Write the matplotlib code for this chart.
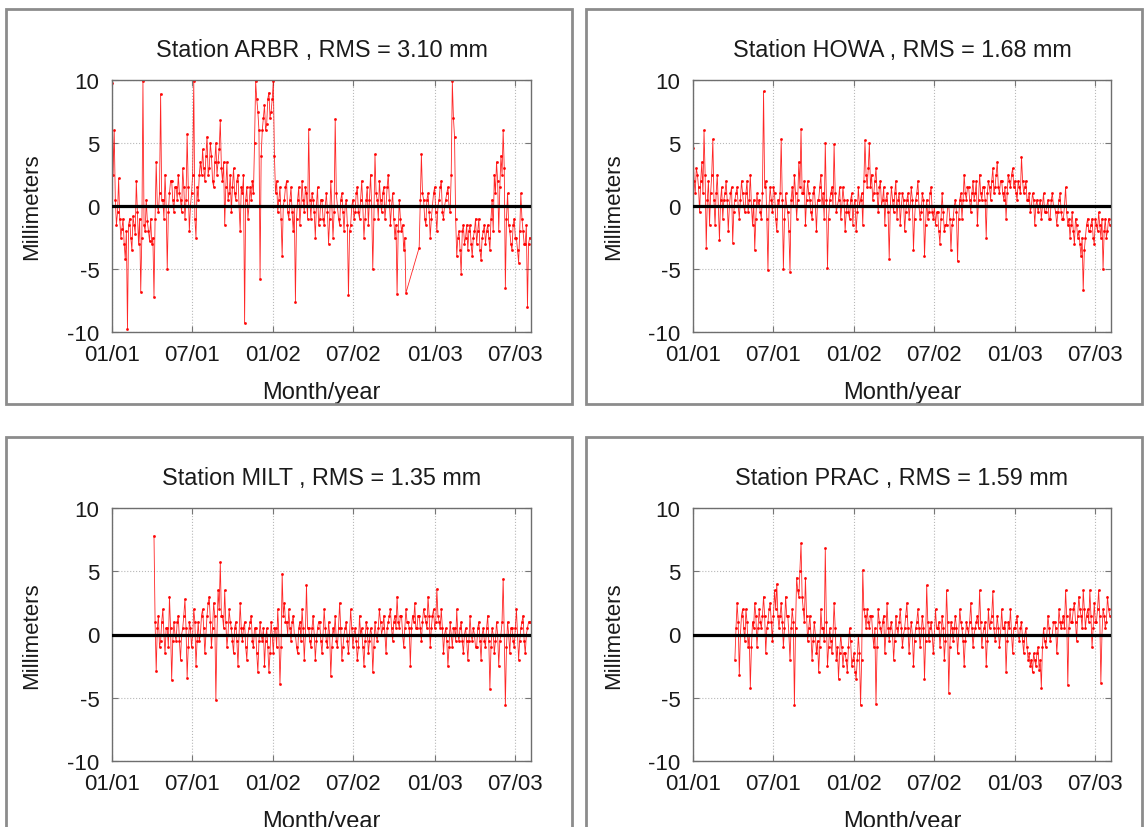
"""Daily GPS height residuals for four stations, 2001-2003.

Four framed panels, one per station, each showing the residual series in
millimetres with a heavy zero line, MATLAB-like inward ticks and dotted grid.
"""

import matplotlib

matplotlib.use("Agg")

import matplotlib.dates as mdates
import matplotlib.pyplot as plt
import numpy as np
from matplotlib.patches import Rectangle

# --- data (one value every 2.5 days) ---------------------------------------
SAMPLE_STEP_HOURS = 60

arbr_start = "2001-01-01"
arbr_values = [
    9.8, 2.5, 6.0, 0.5, -1.5, -0.5, 2.2, -1.0, -2.5, -1.8,
    -1.0, -3.0, -4.2, -2.0, -9.8, -1.5, -1.0, -2.5, -3.5, -0.8,
    -1.5, -2.2, 2.0, -0.5, -3.0, -1.0, -6.8, -2.5, 9.9, -1.5,
    -2.0, 0.5, -1.2, -2.0, -2.8, -1.0, -3.0, -2.5, -7.2, -1.0,
    3.5, 0.0, -0.5, 1.0, 8.9, 0.5, 0.5, -1.0, 2.5, 0.0,
    -5.0, -0.5, 1.0, 2.0, 2.0, 0.5, -0.5, 1.5, 1.5, 0.5,
    2.5, 1.0, 0.5, -0.5, 3.0, 1.5, -1.0, 0.5, 5.7, 1.5,
    -2.0, 0.0, 1.0, 2.5, 9.9, -1.0, -2.5, 1.5, 0.5, 2.5,
    3.5, 2.5, 4.5, 3.0, 2.0, 4.0, 5.5, 2.5, 3.0, 5.0,
    4.0, 2.0, 1.5, 3.5, 5.0, 2.5, 3.5, 4.5, 6.8, 3.0,
    2.0, 3.5, -1.5, 1.5, 3.5, 0.5, 1.0, 2.5, -0.5, 1.5,
    3.0, 1.0, 0.5, 2.0, 2.5, 0.0, -2.0, 1.5, 1.0, 2.5,
    -9.3, 0.5, 1.5, -1.0, 0.0, 1.5, 0.5, 2.0, 1.0, 5.0,
    9.9, 8.5, 7.5, 6.0, -5.8, 4.0, 6.0, 7.0, 8.0, 6.0,
    6.5, 8.5, 9.0, 7.0, 7.5, 8.5, 9.9, 4.0, 1.0, 2.0,
    -0.5, 0.5, 1.5, -1.0, -4.0, 0.0, 0.5, 1.5, 2.0, -0.5,
    -1.0, 0.5, 1.5, -0.5, -2.0, 0.0, -7.6, -1.0, 0.5, 1.5,
    -1.5, 0.0, 2.0, 0.5, -0.5, 1.5, 1.0, -1.0, 6.1, 0.5,
    -1.0, 1.0, 0.5, -0.5, -2.5, 0.0, 1.5, -1.5, -1.0, 0.5,
    0.5, -1.0, -1.5, 0.0, 1.0, -0.5, -3.0, -1.0, 2.0, 0.0,
    -2.5, -0.5, 6.9, 1.0, 0.0, -1.0, -1.5, 0.5, 1.0, -0.5,
    -2.0, 0.0, 0.5, -1.5, -7.1, -2.0, -1.5, 0.0, 0.5, -1.0,
    -0.5, 1.0, 1.5, -0.5, -1.0, 0.5, 2.0, 0.0, -2.5, -1.0,
    0.5, 1.5, -1.5, 0.5, 2.5, 0.0, -5.0, -1.0, 4.1, 1.0,
    0.5, -1.0, 2.0, 0.5, -0.5, 1.0, 1.5, -1.0, 0.0, 1.5,
    2.5, 0.5, -1.5, 0.0, 1.0, -1.0, -2.5, -1.5, -7.0, -2.0,
    0.5, -1.0, -2.0, -1.5, -3.5, -2.5, -6.9,
]
# ARBR has a data gap in autumn 2002; the series resumes here
arbr_restart = "2002-11-27"
arbr_values_late = [
    -3.3, 0.5,
    4.1, 1.0, 0.5, -1.0, -1.5, 0.5, 1.0, -0.5, -2.5, -1.0,
    0.0, 1.0, 1.5, -0.5, -2.0, 0.0, 0.5, 1.5, 2.0, -0.5,
    -1.0, 0.0, 0.5, 1.0, 1.5, 0.0, -0.5, 2.5, 9.9, 7.0,
    5.5, -1.0, -4.0, -2.5, -2.0, -3.5, -5.4, -2.0, -1.5, -3.0,
    -2.5, -1.5, -3.5, -2.0, -1.5, -3.0, -4.0, -2.5, -2.0, -1.0,
    -3.0, -2.0, -1.0, -3.5, -4.3, -2.5, -2.0, -1.5, -3.0, -2.0,
    -1.5, -2.5, -3.5, -1.0, 0.5, -2.0, 2.5, 1.0, 3.5, 2.0,
    -2.0, 1.5, 4.0, 2.5, 6.0, 3.0, -6.5, -1.0, 1.0, -1.5,
    -2.0, -3.0, -3.5, -1.5, -1.0, -2.5, -2.5, -3.5, -4.5, -2.0,
    1.0, -1.0, -2.0, -3.0, -3.0, -1.5, -8.0, -3.0, -2.5,
]

howa_start = "2001-01-01"
howa_values = [
    4.6, 2.0, 1.0, 3.0, 2.5, 1.5, -0.5, 2.0, 3.5, 1.0,
    6.0, 2.5, -3.3, 0.5, 2.0, -1.5, 1.0, 2.5, 5.3, 0.5,
    -1.5, 1.0, 2.5, 0.0, -2.7, 0.5, 1.5, -1.0, 0.5, 1.0,
    2.0, 0.5, -2.0, 0.0, 1.0, 1.5, -2.9, -0.5, 0.5, 1.0,
    1.5, 0.0, -1.0, 0.5, 2.0, 1.0, 0.0, -0.5, 1.0, 2.0,
    -0.5, 0.5, 2.5, 0.0, -1.5, 0.5, -3.5, -1.0, 1.0, 0.0,
    0.5, -0.5, -1.0, 1.0, 9.1, 1.5, 2.0, -1.0, -5.1, 0.0,
    1.5, 0.5, -0.5, 1.5, 1.0, -1.0, -2.0, 0.5, 0.0, 1.0,
    5.3, 0.5, -5.0, -1.0, 1.0, 0.0, -0.5, -2.0, -5.2, 0.5,
    1.5, 0.0, 2.5, 1.0, -1.0, 0.5, 3.5, 1.5, 6.1, 1.0,
    1.0, 2.0, -1.5, 0.5, 2.0, 1.0, 0.5, -0.5, -1.0, 1.0,
    1.5, 0.0, -2.0, 0.5, 0.5, 1.5, 2.5, 0.0, 1.0, -1.0,
    5.0, 0.5, -4.9, -1.0, 0.5, 1.0, 1.5, 0.0, 4.9, 1.0,
    -0.5, 0.0, 0.5, 1.5, -1.0, 0.0, 1.5, 0.5, -2.0, -0.5,
    0.5, -0.5, -1.0, 0.5, 1.0, -1.5, 0.0, 0.5, -2.0, -0.5,
    1.5, 0.0, 0.5, 1.0, -1.5, 2.0, 5.2, 2.5, 1.5, 3.0,
    5.0, 1.5, 2.5, 0.5, 1.0, 2.0, 3.0, 1.0, -0.5, 1.5,
    2.0, 0.0, 0.5, 1.5, -1.5, 0.5, 1.0, -0.5, -4.2, 0.0,
    1.5, 0.5, -0.5, 1.0, 2.0, -1.0, 0.5, 1.0, -1.5, 0.0,
    1.0, 0.5, -2.0, -0.5, 0.5, 1.0, -1.0, 0.0, 1.5, 0.5,
    -3.5, -1.0, 0.5, 1.0, 2.0, 0.0, -1.0, -0.5, 1.0, 0.5,
    -4.0, -1.5, 0.5, -1.0, -0.5, 1.0, 1.5, -0.5, -1.0, 0.0,
    -1.5, -0.5, -0.5, -2.0, -3.0, -1.0, 1.0, -0.5, -2.0, -1.5,
    -1.5, 0.0, 0.0, -1.0, -3.5, -1.5, -1.0, 0.0, 0.5, -0.5,
    -4.4, -1.0, 0.5, 1.0, -1.0, 0.5, 2.5, 1.0, 0.5, 1.5,
    1.5, 0.5, -0.5, 1.0, 2.0, 0.5, 1.0, 2.0, -1.5, 0.5,
    2.5, 1.0, 0.5, 1.5, 1.5, 0.5, -2.5, 1.0, 2.0, 1.5,
    0.5, 2.0, 3.0, 1.0, 1.5, 2.5, 3.5, 1.5, 1.0, 2.0,
    2.0, 1.0, 0.5, 1.5, -1.0, 1.0, 2.5, 2.0, 1.5, 2.5,
    3.0, 1.5, 2.0, 1.0, 0.5, 2.0, 1.5, 1.0, 3.9, 2.0,
    1.0, 1.5, 2.0, 0.5, 0.5, 1.0, -0.5, 0.0, 1.0, 0.5,
    -1.5, 0.0, 0.5, -0.5, 0.0, 0.5, -1.0, 0.0, 1.0, -0.5,
    -0.5, 0.0, 0.5, -1.0, -1.0, 0.5, 1.0, 0.0, 0.0, -0.5,
    -1.5, -0.5, 0.5, 1.0, -0.5, -1.0, -1.0, 0.0, 1.5, -0.5,
    -1.5, -1.0, -2.5, -1.5, -0.5, -2.0, -3.0, -1.0, -1.5, -2.5,
    -2.0, -3.0, -4.0, -2.5, -6.7, -3.5, -2.5, -1.5, -1.0, -2.0,
    -2.0, -1.5, -1.0, -2.5, -3.0, -1.0, -1.5, -2.0, -0.5, -1.5,
    -2.5, -1.0, -5.0, -2.0, -1.0, -2.5, -2.0, -1.0, -1.5,
]

milt_start = "2001-04-06"
milt_values = [
    7.8, 1.0, -2.9, 0.5, 1.5, -1.0, -0.5, 1.0, 2.0, 0.0,
    -1.5, 0.5, 0.5, -1.0, 3.0, 0.5, -3.6, -0.5, 1.0, 0.0,
    -0.5, 1.0, 1.5, -0.5, -2.0, 0.0, 0.5, 1.5, 2.8, 0.5,
    -3.4, -1.0, 1.0, 0.5, -1.0, 0.0, 2.0, 1.0, -2.5, -0.5,
    1.0, -0.5, 0.0, 1.5, 2.0, 0.5, -1.5, 0.0, 1.5, 2.5,
    3.0, 1.0, -1.0, 0.5, 2.5, 1.5, -5.2, 0.0, 3.5, 2.0,
    5.7, 1.5, 1.5, 0.5, 3.5, 1.0, -1.0, 0.0, 2.0, 1.0,
    0.5, -0.5, -1.5, 0.5, 1.0, -0.5, -2.5, 0.0, 2.5, 0.5,
    -0.5, 0.5, 1.0, -1.0, -2.0, 0.0, 0.5, 1.0, 1.5, -0.5,
    -1.0, 0.5, 0.5, -1.5, -3.0, -0.5, 1.0, 0.0, -0.5, 0.5,
    -2.5, -0.5, 0.5, -1.0, -3.0, -1.5, 1.0, 0.0, -1.5, 0.5,
    0.5, -1.0, 2.0, 0.0, -3.9, -1.0, 4.8, 1.5, 2.5, 1.0,
    1.0, 0.0, 2.0, 0.5, -0.5, 1.0, 1.5, 0.0, 0.0, -1.0,
    -1.5, 0.5, 1.0, -0.5, 2.0, 0.5, -2.0, 0.0, 3.9, 0.5,
    0.5, -0.5, -1.0, 0.5, 1.5, 0.0, -2.0, -0.5, 0.5, 1.0,
    1.0, -0.5, -1.5, 0.0, 2.0, 0.5, -0.5, -1.0, 1.0, 0.0,
    -3.3, -1.0, 0.5, 0.0, 1.5, -0.5, -1.0, 0.5, 2.5, 0.5,
    -2.0, -1.0, 0.0, 0.5, 1.0, -0.5, -1.5, 0.0, 2.0, 0.5,
    -1.0, 0.0, 0.5, -0.5, -2.0, -1.0, 1.5, 0.0, 0.5, -1.0,
    -2.5, -0.5, 1.0, 0.5, -1.5, -0.5, 0.5, 0.0, -3.0, -1.0,
    1.0, 0.0, -0.5, 0.5, 2.0, 1.0, 0.0, 0.5, 1.5, 0.0,
    -1.5, 0.5, 1.0, 1.5, 2.0, 0.5, -0.5, 1.0, 1.5, 0.5,
    3.0, 1.0, 0.5, 1.5, 1.5, 0.0, -1.0, 0.5, 2.0, 1.0,
    1.0, 0.5, -2.5, 0.5, 1.5, 1.0, 2.5, 0.5, 0.5, 1.5,
    1.5, 0.5, -0.5, 1.0, 2.0, 1.5, 1.0, 0.5, 3.0, 1.5,
    -1.0, 0.5, 1.5, 2.0, 0.5, 1.0, 3.6, 1.5, 1.0, 0.5,
    2.0, 0.5, -1.5, 0.0, 0.5, -0.5, -2.5, -1.0, 1.0, 0.0,
    -1.0, 0.5, 0.5, -0.5, 2.0, 0.0, -0.5, 0.5, 1.0, -0.5,
    -1.5, 0.0, 0.5, -0.5, -2.0, -0.5, 1.5, 0.0, -0.5, 0.5,
    0.0, -1.0, -1.0, 0.5, 1.0, -0.5, -2.0, 0.0, 0.5, -0.5,
    -1.0, 0.5, 1.5, -0.5, -4.3, -1.0, 0.5, 0.0, -1.5, -0.5,
    1.0, 0.0, -2.5, -0.5, 0.0, 1.0, 4.4, 0.0, -5.6, -1.0,
    1.0, 0.0, -1.5, 0.5, 0.5, -0.5, -1.0, 0.5, 2.0, 0.0,
    -2.0, -0.5, 0.5, 1.0, 1.5, -0.5, -1.5, 0.0, 0.5, 1.0, 1.0,
]

prac_start = "2001-04-06"
prac_values = [
    -2.0, 0.5, 2.5, 1.0, -3.2, 0.0, 1.5, 2.0, 0.5, -0.5,
    2.0, 1.0, -1.0, 0.0, -4.2, -1.0, 1.0, 0.5, 2.5, 1.5,
    -1.0, 0.5, 2.0, 1.0, 0.5, 1.5, 3.0, 1.5, -1.5, 0.5,
    1.0, 2.0, 2.5, 1.0, -0.5, 1.5, 3.5, 2.0, 4.0, 1.5,
    0.5, 1.5, 2.5, 1.0, -1.0, 0.5, 3.0, 1.5, 1.5, 0.0,
    -2.0, 0.5, 2.0, 1.0, -5.6, 0.5, 4.5, 3.5, 3.0, 5.0,
    7.2, 3.0, 2.0, 1.0, 4.5, 1.5, -0.5, 0.5, 1.5, 0.0,
    -2.0, -0.5, 1.0, 0.0, -1.5, -0.5, -3.0, -1.0, 2.0, 0.5,
    0.5, -0.5, 6.8, 1.0, -2.5, -1.0, 0.5, -0.5, -1.5, 0.0,
    2.5, 0.5, -2.0, -1.0, -3.5, -1.5, 0.0, -1.0, -2.5, -1.5,
    -1.5, -2.0, -3.0, -1.0, 0.5, -0.5, -2.5, -2.0, -1.5, -3.0,
    -3.5, -2.0, 0.0, -1.5, -5.6, -2.0, 5.1, 2.0, 1.5, 0.5,
    2.0, 1.0, 0.5, 1.5, 1.5, 0.0, -1.0, 0.5, -5.5, -1.0,
    2.0, 1.0, 0.5, 0.0, 1.0, 1.5, -1.5, 0.0, 2.5, 0.5,
    -0.5, 0.5, 1.0, 0.0, -2.0, -0.5, 1.5, 0.5, 0.0, 1.0,
    2.0, 0.5, -1.0, 0.0, 0.5, 1.5, 2.5, 0.5, -1.5, 0.0,
    1.0, 0.0, -2.5, -0.5, 0.5, 1.0, 2.0, 0.5, -1.0, 0.0,
    1.5, 0.5, -3.5, -0.5, 3.9, 1.0, -0.5, 0.5, 1.0, 0.0,
    -1.5, 0.0, 2.0, 0.5, 0.5, 1.0, -1.0, 0.0, 1.5, 0.5,
    -2.0, -0.5, 3.5, 1.0, -4.6, -1.0, 1.0, 0.5, -0.5, 0.5,
    1.5, 0.5, -1.5, 0.0, 2.0, 1.0, 0.5, -0.5, -2.5, -0.5,
    1.0, 0.5, 0.0, 1.0, 2.5, 0.5, -1.0, 0.0, 0.5, 1.0,
    1.5, 0.5, 3.5, 1.0, -1.0, 0.0, 0.5, 1.0, -2.5, -0.5,
    2.0, 0.5, 1.0, 1.5, 3.4, 0.5, -0.5, 0.0, 1.5, 0.5,
    -1.0, 0.0, 2.0, 0.5, 0.5, 1.0, -3.0, -0.5, 1.0, 0.5,
    2.0, 0.0, -1.5, 0.5, 0.5, 1.0, 1.5, 0.0, -0.5, 0.5,
    1.0, -0.5, -1.5, 0.0, 0.5, -1.0, -2.0, -1.5, -2.5, -2.0,
    -3.0, -1.5, -2.0, -2.5, -1.5, -1.0, -2.8, -2.0, -4.2, -1.0,
    0.5, -0.5, -1.0, 0.0, 1.5, 0.5, -0.5, 0.0, 0.0, 1.0,
    1.0, 0.5, -1.5, 0.0, 2.0, 1.0, 0.5, 1.0, 1.5, 0.5,
    3.5, 1.5, -4.0, 0.5, 2.0, 1.0, 1.0, 2.0, 2.5, 1.0,
    -0.5, 1.5, 3.0, 2.0, 1.5, 0.5, 3.5, 2.0, 0.5, 1.5,
    2.0, 1.0, 3.5, 1.5, -1.0, 0.5, 2.5, 1.0, 1.0, 2.0,
    3.5, 1.5, -3.8, 0.0, 2.0, 1.5, 0.5, 1.0, 3.0, 2.0, 1.5,
]

stations = ["ARBR", "HOWA", "MILT", "PRAC"]
rms_mm = [3.10, 1.68, 1.35, 1.59]
tick_dates = ["2001-01-01", "2001-07-01", "2002-01-01",
              "2002-07-01", "2003-01-01", "2003-07-01"]
y_ticks = [-10, -5, 0, 5, 10]
x_range = ("2001-01-01", "2003-08-07")

# --- layout (pixels of the 1144x828 canvas) --------------------------------
W, H, DPI = 1144, 828, 100
AXES_BOXES = [(112, 81, 531, 333), (693, 81, 1111, 333),
              (112, 509, 531, 762), (693, 509, 1111, 762)]
FRAME_BOXES = [(6, 10, 572, 405), (586, 10, 1142, 405),
               (6, 438, 572, 840), (586, 438, 1142, 840)]


def sample_dates(start, count):
    """Epochs of a series sampled every SAMPLE_STEP_HOURS from ``start``."""
    offsets = (np.arange(count) * SAMPLE_STEP_HOURS).astype("timedelta64[h]")
    return np.datetime64(start, "h") + offsets


def fig_rect(box):
    left, top, right, bottom = box
    return [left / W, 1 - bottom / H, (right - left) / W, (bottom - top) / H]


def draw_panel(ax, dates, values, name, rms):
    ax.plot(dates, values, color="#ff0000", lw=0.6, marker=".", ms=2.2,
            alpha=0.85, zorder=2)
    ax.axhline(0, color="black", lw=2.3, zorder=3)

    ax.set_xlim(np.datetime64(x_range[0]), np.datetime64(x_range[1]))
    ax.set_ylim(-10, 10)
    ax.set_xticks([np.datetime64(d) for d in tick_dates])
    ax.xaxis.set_major_formatter(mdates.DateFormatter("%m/%y"))
    ax.set_yticks(y_ticks)

    ax.grid(True, linestyle=":", color="#b8b8b8", lw=0.8)
    ax.set_axisbelow(True)
    ax.tick_params(direction="in", top=True, right=True, length=4,
                   color="#777777", labelcolor="#1a1a1a", pad=9)
    for spine in ax.spines.values():
        spine.set_color("#6e6e6e")
        spine.set_linewidth(1.0)

    ax.set_title(f"Station {name} , RMS = {rms:.2f} mm", pad=17,
                 fontsize=16.8, color="#1a1a1a")
    ax.set_ylabel("Millimeters", va="center", color="#1a1a1a")
    ax.yaxis.set_label_coords(-0.191, 0.5)
    ax.set_xlabel("Month/year", va="center", fontsize=17, color="#1a1a1a")
    ax.xaxis.set_label_coords(0.5, -0.238)


def main():
    plt.rcParams["font.family"] = ["Liberation Sans", "DejaVu Sans"]
    plt.rcParams["font.size"] = 16
    plt.rcParams["axes.unicode_minus"] = False

    fig = plt.figure(figsize=(W / DPI, H / DPI), dpi=DPI)

    for box in FRAME_BOXES:
        left, top, right, bottom = box
        fig.add_artist(Rectangle(
            (left / W, 1 - bottom / H), (right - left) / W, (bottom - top) / H,
            transform=fig.transFigure, fill=False, edgecolor="#8c8c8c",
            lw=2.0, clip_on=False))

    arbr_dates = np.concatenate([
        sample_dates(arbr_start, len(arbr_values)),
        sample_dates(arbr_restart, len(arbr_values_late)),
    ])
    series = [
        (arbr_dates, arbr_values + arbr_values_late),
        (sample_dates(howa_start, len(howa_values)), howa_values),
        (sample_dates(milt_start, len(milt_values)), milt_values),
        (sample_dates(prac_start, len(prac_values)), prac_values),
    ]

    for box, (dates, values), name, rms in zip(AXES_BOXES, series,
                                               stations, rms_mm):
        ax = fig.add_axes(fig_rect(box))
        draw_panel(ax, dates, values, name, rms)

    fig.savefig("out.png", dpi=DPI)
    plt.close(fig)


if __name__ == "__main__":
    main()
